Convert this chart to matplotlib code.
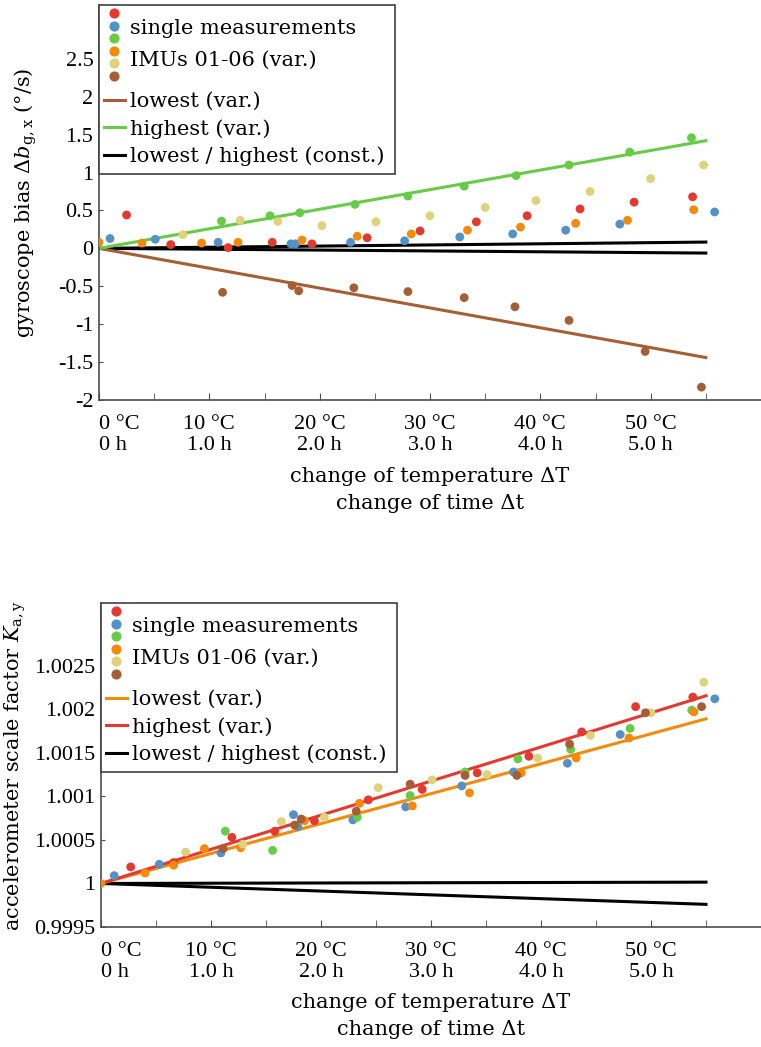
import numpy as np
import matplotlib
matplotlib.use("Agg")
import matplotlib.pyplot as plt
from matplotlib.lines import Line2D
from matplotlib.patches import Rectangle
from matplotlib.transforms import Bbox, IdentityTransform
from matplotlib.legend_handler import HandlerBase

plt.rcParams['font.family'] = ['DejaVu Serif']
plt.rcParams['mathtext.fontset'] = 'dejavuserif'
plt.rcParams['font.size'] = 15

# colours of the six IMUs
imu_colors = ['#e5392f', '#5392c8', '#66cc47', '#f58a0a', '#e0d27a', '#a65e34']

# --- gyroscope bias (deg/s) over time (h) ---
gyro_red = ([0.25, 0.65, 1.17, 1.57, 1.93, 2.43, 2.91, 3.42, 3.88, 4.36, 4.85, 5.38],
            [0.44, 0.05, 0.01, 0.08, 0.06, 0.14, 0.23, 0.35, 0.43, 0.52, 0.61, 0.68])
gyro_blue = ([0.10, 0.51, 1.08, 1.74, 1.78, 2.28, 2.77, 3.27, 3.75, 4.23, 4.72, 5.58],
             [0.13, 0.12, 0.08, 0.06, 0.06, 0.08, 0.10, 0.15, 0.19, 0.24, 0.32, 0.48])
gyro_green = ([1.11, 1.55, 1.82, 2.32, 2.80, 3.31, 3.78, 4.26, 4.81, 5.37],
              [0.36, 0.43, 0.47, 0.58, 0.69, 0.82, 0.96, 1.10, 1.27, 1.46])
gyro_orange = ([0.0, 0.39, 0.93, 1.26, 1.84, 2.34, 2.83, 3.34, 3.82, 4.32, 4.79, 5.39],
               [0.08, 0.07, 0.07, 0.08, 0.11, 0.16, 0.19, 0.24, 0.28, 0.33, 0.37, 0.51])
gyro_yellow = ([0.76, 1.28, 1.62, 2.02, 2.51, 3.00, 3.50, 3.96, 4.45, 5.00, 5.48],
               [0.18, 0.37, 0.355, 0.30, 0.35, 0.43, 0.54, 0.63, 0.75, 0.92, 1.10])
gyro_brown = ([1.12, 1.75, 1.81, 2.31, 2.80, 3.31, 3.77, 4.26, 4.95, 5.46],
              [-0.58, -0.49, -0.56, -0.52, -0.57, -0.65, -0.77, -0.95, -1.36, -1.83])
gyro_series = [gyro_red, gyro_blue, gyro_green, gyro_orange, gyro_yellow, gyro_brown]

# fitted lines: value at start and end of the run
line_t = [0.0, 5.5]
gyro_lowest = [0.0, -1.44]
gyro_highest = [0.0, 1.42]
gyro_const_hi = [0.0, 0.083]
gyro_const_lo = [0.0, -0.062]

# --- accelerometer scale factor over time (h) ---
acc_red = ([0.27, 0.66, 1.19, 1.58, 1.94, 2.43, 2.92, 3.42, 3.89, 4.37, 4.86, 5.38],
           [1.00019, 1.00024, 1.00053, 1.00060, 1.00072, 1.00096, 1.00108, 1.00127,
            1.00146, 1.00174, 1.00203, 1.00214])
acc_blue = ([0.12, 0.53, 1.09, 1.75, 1.79, 2.29, 2.77, 3.28, 3.75, 4.24, 4.72, 5.58],
            [1.00009, 1.00022, 1.00035, 1.00079, 1.00065, 1.00073, 1.00088, 1.00112,
             1.00128, 1.00138, 1.00171, 1.00212])
acc_green = ([1.13, 1.56, 2.33, 2.81, 3.31, 3.79, 4.27, 4.81, 5.37],
             [1.00060, 1.00038, 1.00076, 1.00101, 1.00128, 1.00143, 1.00154, 1.00178, 1.00199])
acc_orange = ([0.0, 0.40, 0.66, 0.94, 1.27, 1.85, 2.35, 2.83, 3.35, 3.82, 4.32, 4.80, 5.39],
              [1.0, 1.00012, 1.00021, 1.00040, 1.00041, 1.00072, 1.00092, 1.00089, 1.00104,
               1.00127, 1.00144, 1.00167, 1.00197])
acc_yellow = ([0.77, 1.29, 1.64, 2.03, 2.52, 3.01, 3.51, 3.97, 4.45, 5.00, 5.48],
              [1.00036, 1.00045, 1.00071, 1.00076, 1.00110, 1.00119, 1.00125, 1.00144,
               1.00170, 1.00196, 1.00231])
acc_brown = ([1.11, 1.76, 1.82, 2.32, 2.81, 3.31, 3.78, 4.26, 4.95, 5.46],
             [1.00040, 1.00067, 1.00074, 1.00083, 1.00114, 1.00124, 1.00124, 1.00160,
              1.00196, 1.00203])
acc_series = [acc_red, acc_blue, acc_green, acc_orange, acc_yellow, acc_brown]

acc_lowest = [1.0, 1.00189]
acc_highest = [1.0, 1.002155]
acc_const_hi = [1.0, 1.000015]
acc_const_lo = [1.0, 0.99976]

# tick labels
hour_ticks = [0, 1, 2, 3, 4, 5]
half_ticks = np.arange(0, 6.0, 0.5)
hour_labels = ['0 °C\n0 h', '10 °C\n1.0 h', '20 °C\n2.0 h',
               '30 °C\n3.0 h', '40 °C\n4.0 h', '50 °C\n5.0 h']
gyro_yticks = [-2, -1.5, -1, -0.5, 0, 0.5, 1, 1.5, 2, 2.5]
gyro_ylabels = ['-2', '-1.5', '-1', '-0.5', '0', '0.5', '1', '1.5', '2', '2.5']
acc_yticks = [0.9995, 1.0, 1.0005, 1.001, 1.0015, 1.002, 1.0025]
acc_ylabels = ['0.9995', '1', '1.0005', '1.001', '1.0015', '1.002', '1.0025']

FS = 15
TICK_FS = 16
LW = 2.2


class DotStack:
    def __init__(self, colors):
        self.colors = colors


class HandlerDotStack(HandlerBase):
    def __init__(self):
        super().__init__()
        self.artists = []

    def create_artists(self, legend, orig_handle, xdescent, ydescent,
                       width, height, fontsize, trans):
        n = len(orig_handle.colors)
        step = 0.6 * fontsize
        x0 = -xdescent + width / 2
        yc = -ydescent + height / 2
        arts = []
        for i, c in enumerate(orig_handle.colors):
            y = yc + (n - 1) / 2 * step - i * step
            arts.append(Line2D([x0], [y], marker='o', linestyle='none',
                               markersize=6.3, color=c, transform=trans))
        self.artists = arts
        return arts


fig = plt.figure(figsize=(7.61, 10.47), dpi=100)
W, H = 761, 1047
ax1 = fig.add_axes([99 / W, 1 - 400 / H, 1 - 99 / W, (400 - 5) / H])
ax2 = fig.add_axes([101 / W, 1 - 927 / H, 1 - 101 / W, (927 - 603) / H])


def draw(ax, series, lowest, highest, c_low, c_high, const_hi, const_lo):
    ax.plot(line_t, const_hi, color='black', lw=LW, zorder=2)
    ax.plot(line_t, const_lo, color='black', lw=LW, zorder=2)
    ax.plot(line_t, lowest, color=c_low, lw=LW, zorder=2)
    ax.plot(line_t, highest, color=c_high, lw=LW, zorder=2)
    for (t, v), c in zip(series, imu_colors):
        ax.scatter(t, v, s=40, color=c, edgecolors='none', zorder=3)

    # legend: stacked dots entry and the three line entries, one frame
    handler = HandlerDotStack()
    opts = dict(loc='upper left', frameon=False, borderpad=0, borderaxespad=0,
                handlelength=1.0, handletextpad=0.25, fontsize=FS)
    leg_a = ax.legend([DotStack(imu_colors)],
                      ['single measurements\nIMUs 01-06 (var.)'],
                      handler_map={DotStack: handler}, **opts)
    leg_a.get_texts()[0].set_linespacing(1.8)
    ax.add_artist(leg_a)
    leg_b = ax.legend([Line2D([], [], color=c_low, lw=LW),
                       Line2D([], [], color=c_high, lw=LW),
                       Line2D([], [], color='black', lw=LW)],
                      ['lowest (var.)', 'highest (var.)', 'lowest / highest (const.)'],
                      labelspacing=0.37, **opts)

    for s in ['top', 'right']:
        ax.spines[s].set_visible(False)
    for s in ['left', 'bottom']:
        ax.spines[s].set_color('0.3')
        ax.spines[s].set_linewidth(1.2)
    ax.set_xlim(0, 6.0)
    ax.set_xticks(hour_ticks, labels=hour_labels, linespacing=1.1)
    ax.set_xticks(half_ticks, minor=True)
    first = ax.get_xticklabels()[0]
    first.set_horizontalalignment('left')
    first.set_multialignment('left')
    ax.tick_params(axis='x', which='both', direction='in', length=5,
                   color='0.3', pad=11, labelsize=TICK_FS,
                   labelfontfamily='Liberation Serif')
    ax.tick_params(axis='y', direction='in', length=3, color='0.3',
                   pad=4, labelsize=TICK_FS, labelfontfamily='Liberation Serif')
    ax.set_xlabel('change of temperature ΔT\nchange of time Δt',
                  fontsize=FS, linespacing=1.5, va='top')
    return leg_a, leg_b, handler


def place_legend(ax, leg_a, leg_b, handler, gap):
    fig.canvas.draw()
    r = fig.canvas.get_renderer()
    ab = ax.get_window_extent(r)
    la = leg_a.get_window_extent(r)
    db = Bbox.union([a.get_window_extent(r) for a in handler.artists])
    over_top = db.y1 - la.y1
    over_bot = la.y0 - db.y0
    pad_l, pad_t, pad_r, pad_b = 5, 4, 10, 8
    ya = ab.y1 - pad_t - over_top
    leg_a.set_bbox_to_anchor((ab.x0 + pad_l, ya), transform=IdentityTransform())
    yb = ya - la.height - over_bot - gap
    leg_b.set_bbox_to_anchor((ab.x0 + pad_l, yb), transform=IdentityTransform())
    lb = leg_b.get_window_extent(r)
    right = ab.x0 + pad_l + max(la.width, lb.width) + pad_r
    bottom = yb - lb.height - pad_b
    inv = ax.transAxes.inverted()
    (x0, y0), (x1, y1) = inv.transform([(ab.x0, bottom), (right, ab.y1)])
    ax.add_patch(Rectangle((x0, y0), x1 - x0, y1 - y0, transform=ax.transAxes,
                           facecolor='white', edgecolor='0.25', lw=1.2,
                           zorder=4.9, clip_on=False))


legs1 = draw(ax1, gyro_series, gyro_lowest, gyro_highest, imu_colors[5], imu_colors[2],
             gyro_const_hi, gyro_const_lo)
ax1.set_ylim(-2, 3.21)
ax1.set_yticks(gyro_yticks, labels=gyro_ylabels)
ax1.set_ylabel(r'gyroscope bias $\Delta b_{\mathrm{g,x}}$ (°/s)', fontsize=FS)
ax1.yaxis.set_label_coords(-0.09, 0.5)
ax1.xaxis.set_label_coords(0.5, -0.17)

legs2 = draw(ax2, acc_series, acc_lowest, acc_highest, imu_colors[3], imu_colors[0],
             acc_const_hi, acc_const_lo)
ax2.set_ylim(0.9995, 1.00322)
ax2.set_yticks(acc_yticks, labels=acc_ylabels)
ax2.set_ylabel(r'accelerometer scale factor $K_{\mathrm{a,y}}$', fontsize=FS)
ax2.yaxis.set_label_coords(-0.11, 0.5)
ax2.xaxis.set_label_coords(0.5, -0.205)

place_legend(ax1, *legs1, gap=12)
place_legend(ax2, *legs2, gap=12)

fig.savefig('out.png', dpi=100)
